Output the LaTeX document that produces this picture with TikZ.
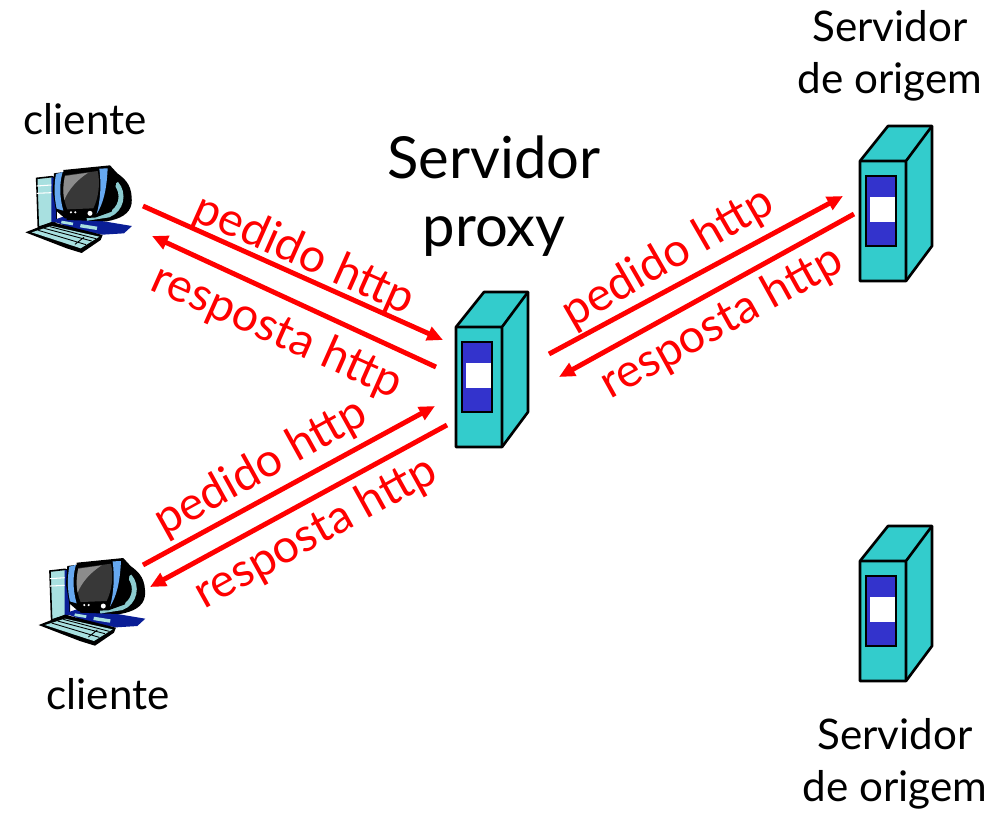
\documentclass[tikz,border=0pt]{standalone}
\usepackage{fontspec}
\setmainfont{Lato}
\usetikzlibrary{arrows.meta}
\definecolor{srvteal}{HTML}{33CCCC}
\definecolor{srvblue}{HTML}{3333CC}
\definecolor{pcblue}{HTML}{66A8F0}
\definecolor{pcdark}{HTML}{0A1E96}
\definecolor{pclight}{HTML}{A8E0E0}
\definecolor{pcring}{HTML}{8CCCD0}
\tikzset{
	msg/.style={-{Triangle[length=9pt,width=8pt]},red,line width=2.8pt},
	lbl/.style={font=\fontsize{24}{29.5}\selectfont,inner sep=0pt,align=center},
	msglbl/.style={lbl,red,font=\fontsize{26.5}{30}\selectfont},
	server/.pic={
		\draw[fill=srvteal,line width=1.5pt,line join=round] (0,0) -- (28,-35) -- (72,-35) -- (72,85) -- (46,120) -- (0,120) -- cycle;
		\draw[line width=1.5pt,line join=round] (0,0) -- (46,0) -- (72,-35) (46,0) -- (46,120);
		\draw[fill=srvblue,line width=1.3pt] (6,15) rectangle (36,85);
		\fill[white] (10,36) rectangle (35,61);
	},
	computer/.pic={
		\begin{scope}[scale=0.3333]
			% tower
			\draw[fill=pclight,line width=0.9pt] (80,85) -- (125,80) -- (138,85) -- (138,215) -- (85,232) -- cycle;
			\fill[pcdark] (124,82) -- (138,85) -- (138,215) -- (124,220) -- cycle;
			\draw[white,line width=0.6pt] (80,108) -- (124,105) (80,130) -- (124,128);
			% stand and back of the screen
			\fill[pcdark] (125,212) -- (160,200) -- (270,212) -- (366,228) -- (342,250) -- (278,254) -- (200,240) -- cycle;
			\fill[black] (160,60) -- (300,46) -- (322,70) .. controls (350,90) and (368,110) .. (365,160) .. controls (360,192) and (330,207) .. (290,214) -- (170,210) -- cycle;
			\draw[pcring,line width=2.8pt] (318,100) .. controls (345,130) and (335,180) .. (295,195) -- (230,205);
			\fill[pclight] (155,212) -- (190,218) -- (188,226) -- (153,220) -- cycle (212,222) -- (262,230) -- (260,240) -- (210,232) -- cycle;
			% monitor
			\fill[black] (132,70) -- (295,48) -- (318,100) -- (305,185) -- (255,203) -- (165,205) -- (138,182) -- (128,125) -- cycle;
			\fill[pcblue] (138,72) -- (158,66) .. controls (148,100) and (148,140) .. (160,182) -- (140,176) .. controls (132,140) and (132,105) .. (138,72) -- cycle;
			\fill[pcblue] (268,56) -- (293,55) .. controls (290,120) and (280,160) .. (260,192) .. controls (272,150) and (274,100) .. (268,56) -- cycle;
			\fill[black!78] (165,76) -- (263,63) .. controls (272,100) and (265,145) .. (250,175) -- (172,178) .. controls (158,145) and (158,110) .. (165,76) -- cycle;
			\fill[black!45] (165,78) -- (235,68) .. controls (200,90) and (175,120) .. (163,150) .. controls (158,125) and (160,100) .. (165,78) -- cycle;
			\fill[white] (183,187) circle (3.5) (196,187) circle (3.5) (240,190) circle (7.5);
			% keyboard
			\fill[black] (46,247) -- (125,216) -- (278,255) -- (272,270) -- (215,309) -- (170,295) -- cycle;
			\fill[pclight] (65,247) -- (125,228) -- (268,260) -- (212,295) -- cycle;
			\draw[black,line width=0.5pt] (85,241) -- (228,284) (103,235) -- (245,273) (120,230) -- (258,266) (195,283) -- (222,262);
		\end{scope}
	}
}
\begin{document}
\begin{tikzpicture}[x=0.02cm,y=-0.02cm]
	\useasboundingbox (0,0) rectangle (1007,812);
	% machines
	\pic at (10,150) {computer};
	\pic at (23.3,542.7) {computer};
	\pic at (456,327) {server};
	\pic at (860,161) {server};
	\pic at (860,561) {server};
	% labels of the machines
	\node[lbl] (cliente1) at (85,119) {cliente};
	\node[lbl] (cliente2) at (108,694) {cliente};
	\node[lbl,font=\fontsize{33}{38.5}\selectfont] (proxy) at (494,196) {Servidor\\proxy};
	\node[lbl] (origem1) at (890,56) {Servidor\\de origem};
	\node[lbl] (origem2) at (895,764) {Servidor\\de origem};
	% ends of the arrows
	\coordinate (c1out) at (143,206);
	\coordinate (c1in) at (152,236);
	\coordinate (c2out) at (143,565);
	\coordinate (c2in) at (150,587);
	\coordinate (pc1in) at (443,340);
	\coordinate (pc1out) at (436,367);
	\coordinate (pc2in) at (435,406);
	\coordinate (pc2out) at (447,425);
	\coordinate (psout) at (549,354);
	\coordinate (psin) at (559,377);
	\coordinate (sin) at (843,196);
	\coordinate (sout) at (854,214);
	\draw[msg] (c1out) -- (pc1in);
	\draw[msg] (pc1out) -- (c1in);
	\draw[msg] (c2out) -- (pc2in);
	\draw[msg] (pc2out) -- (c2in);
	\draw[msg] (psout) -- (sin);
	\draw[msg] (sout) -- (psin);
	% labels of the arrows
	\node[msglbl,rotate=-24] (ped1) at (304,255) {pedido http};
	\node[msglbl,rotate=-24] (res1) at (277,332) {resposta http};
	\node[msglbl,rotate=29] (ped2) at (261,468) {pedido http};
	\node[msglbl,rotate=29] (res2) at (316,533) {resposta http};
	\node[msglbl,rotate=30] (ped3) at (668,258) {pedido http};
	\node[msglbl,rotate=29] (res3) at (722,323) {resposta http};
\end{tikzpicture}
\end{document}
